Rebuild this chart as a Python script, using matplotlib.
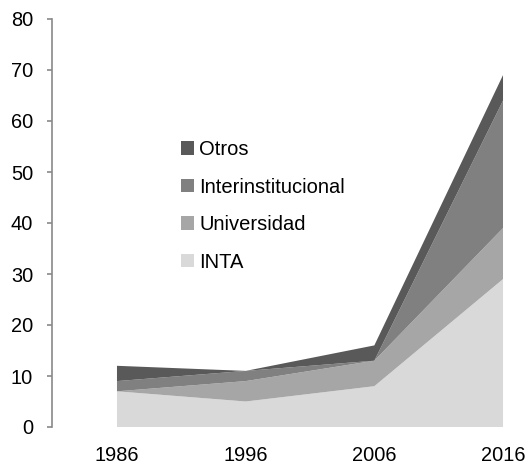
import matplotlib
matplotlib.use("Agg")
import matplotlib.pyplot as plt
from matplotlib.patches import Patch

plt.rcParams['font.family'] = ['Liberation Sans', 'DejaVu Sans']

years = [1986, 1996, 2006, 2016]
inta = [7, 5, 8, 29]
universidad = [0, 4, 5, 10]
interinstitucional = [2, 2, 0, 25]
otros = [3, 0, 3, 5]

labels = ['INTA', 'Universidad', 'Interinstitucional', 'Otros']
colors = ['#D9D9D9', '#A6A6A6', '#808080', '#595959']

fig = plt.figure(figsize=(5.29, 4.70), dpi=100)
ax = fig.add_axes([52 / 529, 43 / 470, 477 / 529, 408 / 470])

ax.stackplot(years, inta, universidad, interinstitucional, otros,
             colors=colors, linewidth=0)

ax.set_xlim(1980.95, 2018.02)
ax.set_ylim(0, 80)
ax.set_yticks(range(0, 81, 10))
ax.set_xticks(years)

for s in ['top', 'right', 'bottom']:
    ax.spines[s].set_visible(False)
ax.spines['left'].set_color('#898989')
ax.spines['left'].set_linewidth(1.2)
ax.tick_params(axis='y', colors='#898989', length=3.6, width=1.2, pad=10,
               labelcolor='black', labelsize=14.4)
ax.tick_params(axis='x', length=0, pad=14, labelsize=14.4, labelcolor='black')

handles = [Patch(facecolor=c, edgecolor='none') for c in colors]
leg = ax.legend(handles[::-1], labels[::-1], loc='upper left',
                bbox_to_anchor=(173 / 529, 1 - 132 / 470),
                bbox_transform=fig.transFigure, frameon=False,
                fontsize=14.5, handlelength=0.65, handleheight=0.65,
                handletextpad=0.25, labelspacing=0.92, borderaxespad=0)

fig.savefig('out.png', dpi=100)
